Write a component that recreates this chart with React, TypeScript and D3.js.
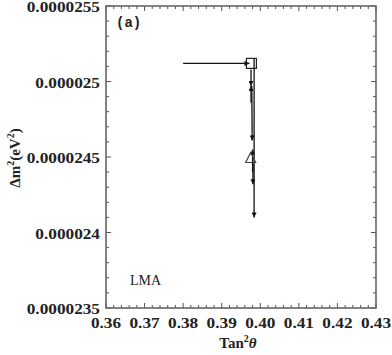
import React, { useEffect, useRef } from "react";
import * as d3 from "d3";

const xTicks = [0.36, 0.37, 0.38, 0.39, 0.4, 0.41, 0.42, 0.43];
const xTickLabels = ["0.36", "0.37", "0.38", "0.39", "0.40", "0.41", "0.42", "0.43"];
const yTicks = [0.0000235, 0.000024, 0.0000245, 0.000025, 0.0000255];
const yTickLabels = ["0.0000235", "0.000024", "0.0000245", "0.000025", "0.0000255"];

// arrow segments: [x0, y0, x1, y1]
const arrows = [
  [0.38, 0.00002512, 0.3972, 0.00002512],
  [0.3976, 0.00002508, 0.3976, 0.00002497],
  [0.3976, 0.00002486, 0.3976, 0.00002497],
  [0.3978, 0.00002497, 0.3979, 0.00002461],
  [0.398, 0.0000244, 0.398, 0.00002455],
  [0.3981, 0.00002446, 0.3981, 0.00002432],
  [0.3984, 0.00002515, 0.3984, 0.0000241],
];
const squarePt = [0.3977, 0.00002512];
const trianglePt = [0.3975, 0.00002449];

const App = () => {
  const ref = useRef<SVGSVGElement>(null);

  useEffect(() => {
    const svg = d3.select(ref.current);
    svg.selectAll("*").remove();

    const left = 106, right = 376, top = 6, bottom = 308;
    const x = d3.scaleLinear().domain([0.36, 0.43]).range([left, right]);
    const y = d3.scaleLinear().domain([0.0000235, 0.0000255]).range([bottom, top]);

    svg.append("defs").append("marker")
      .attr("id", "arr")
      .attr("viewBox", "0 0 10 10")
      .attr("refX", 10).attr("refY", 5)
      .attr("markerWidth", 6).attr("markerHeight", 5)
      .attr("markerUnits", "userSpaceOnUse")
      .attr("orient", "auto")
      .append("path").attr("d", "M0,0L10,5L0,10z").attr("fill", "#111");

    // minor + major ticks
    const xMinor = d3.range(0.36, 0.4301, 0.002);
    const yMinor = d3.range(0.0000235, 0.00002551, 0.0000001);
    const tg = svg.append("g").attr("stroke", "#555").attr("stroke-width", 1);
    xMinor.forEach((v, i) => {
      const len = i % 5 === 0 ? 5 : 3;
      tg.append("line").attr("x1", x(v)).attr("x2", x(v)).attr("y1", bottom).attr("y2", bottom - len);
      tg.append("line").attr("x1", x(v)).attr("x2", x(v)).attr("y1", top).attr("y2", top + len);
    });
    yMinor.forEach((v, i) => {
      const len = i % 5 === 0 ? 5 : 3;
      tg.append("line").attr("y1", y(v)).attr("y2", y(v)).attr("x1", left).attr("x2", left + len);
      tg.append("line").attr("y1", y(v)).attr("y2", y(v)).attr("x1", right).attr("x2", right - len);
    });

    svg.append("rect")
      .attr("x", left).attr("y", top)
      .attr("width", right - left).attr("height", bottom - top)
      .attr("fill", "none").attr("stroke", "#666").attr("stroke-width", 1.6);

    const font = "'Liberation Serif', 'Times New Roman', serif";
    svg.append("g").selectAll("text").data(xTicks).enter().append("text")
      .attr("transform", (d) => `translate(${x(d)},328) scale(1.15,1)`)
      .attr("text-anchor", "middle")
      .attr("font-family", font).attr("font-weight", "bold").attr("font-size", 15)
      .attr("fill", "#222")
      .text((d, i) => xTickLabels[i]);

    svg.append("g").selectAll("text").data(yTicks).enter().append("text")
      .attr("transform", (d) => `translate(100,${y(d) + 6}) scale(1.15,1)`)
      .attr("text-anchor", "end")
      .attr("font-family", font).attr("font-weight", "bold").attr("font-size", 15)
      .attr("fill", "#222")
      .text((d, i) => yTickLabels[i]);

    const xl = svg.append("text")
      .attr("x", 238).attr("y", 348)
      .attr("text-anchor", "middle")
      .attr("font-family", font).attr("font-weight", "bold").attr("font-size", 15)
      .attr("fill", "#222");
    xl.append("tspan").text("Tan");
    xl.append("tspan").attr("dy", -6).attr("font-size", 10).text("2");
    xl.append("tspan").attr("dy", 6).attr("font-style", "italic").text("θ");

    const yl = svg.append("text")
      .attr("transform", "translate(20,158) rotate(-90)")
      .attr("text-anchor", "middle")
      .attr("font-family", font).attr("font-weight", "bold").attr("font-size", 15)
      .attr("fill", "#222");
    yl.append("tspan").text("Δm");
    yl.append("tspan").attr("dy", -6).attr("font-size", 10).text("2");
    yl.append("tspan").attr("dy", 6).text("(eV");
    yl.append("tspan").attr("dy", -6).attr("font-size", 10).text("2");
    yl.append("tspan").attr("dy", 6).text(")");

    svg.append("text")
      .attr("x", 116).attr("y", 27)
      .attr("font-family", "'Liberation Mono', 'Courier New', monospace")
      .attr("font-weight", "bold").attr("font-size", 14)
      .attr("fill", "#222")
      .text("(a)");

    svg.append("text")
      .attr("x", 130).attr("y", 285)
      .attr("font-family", font).attr("font-size", 14)
      .attr("fill", "#222")
      .text("LMA");

    svg.append("g").selectAll("line").data(arrows).enter().append("line")
      .attr("x1", (d) => x(d[0])).attr("y1", (d) => y(d[1]))
      .attr("x2", (d) => x(d[2])).attr("y2", (d) => y(d[3]))
      .attr("stroke", "#111").attr("stroke-width", 1.3)
      .attr("marker-end", "url(#arr)");

    svg.append("rect")
      .attr("x", x(squarePt[0]) - 5).attr("y", y(squarePt[1]) - 5)
      .attr("width", 10).attr("height", 10)
      .attr("fill", "none").attr("stroke", "#222").attr("stroke-width", 1.2);

    const tx = x(trianglePt[0]), ty = y(trianglePt[1]);
    svg.append("path")
      .attr("d", `M${tx},${ty - 6}L${tx + 5},${ty + 4}L${tx - 5},${ty + 4}Z`)
      .attr("fill", "none").attr("stroke", "#444").attr("stroke-width", 1.2);
  }, []);

  return <svg ref={ref} width={392} height={355} style={{ position: "absolute", left: 0, top: 0 }} />;
};

export default App;
